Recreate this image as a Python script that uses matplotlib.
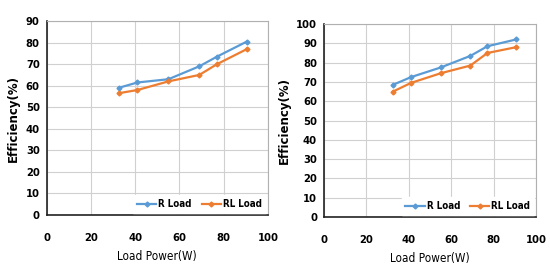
import matplotlib
matplotlib.use("Agg")
import matplotlib.pyplot as plt
from matplotlib import font_manager

names = {f.name for f in font_manager.fontManager.ttflist}
narrow = 'Liberation Sans Narrow' if 'Liberation Sans Narrow' in names else 'DejaVu Sans'
plt.rcParams['font.family'] = [narrow, 'DejaVu Sans']
plt.rcParams['font.stretch'] = 'condensed'

power = [32.5, 41, 55, 69, 77, 90.5]

left_r = [59, 61.5, 63, 69, 73.5, 80.5]
left_rl = [56.5, 58, 62, 65, 70, 77]

right_r = [68.5, 72.5, 77.5, 83.5, 88.5, 92]
right_rl = [65, 69.5, 74.5, 78.5, 85, 88]

panels = [
    (left_r, left_rl, 90, [0.085, 0.195, 0.402, 0.726]),
    (right_r, right_rl, 100, [0.589, 0.187, 0.386, 0.723]),
]

blue = '#5B9BD5'
orange = '#ED7D31'

fig = plt.figure(figsize=(5.5, 2.67), dpi=100)

for r, rl, ymax, rect in panels:
    ax = fig.add_axes(rect)
    ax.plot(power, r, color=blue, lw=1.6, marker='D', ms=2.5, label='R Load')
    ax.plot(power, rl, color=orange, lw=1.6, marker='D', ms=2.5, label='RL Load')
    ax.set_xlim(0, 100)
    ax.set_ylim(0, ymax)
    ax.set_xticks(range(0, 101, 20))
    ax.set_yticks(range(0, ymax + 1, 10))
    ax.grid(color='#d0d0d0', lw=0.8)
    ax.set_axisbelow(True)
    for s in ['top', 'right']:
        ax.spines[s].set_color('#b0b0b0')
    for s in ['left', 'bottom']:
        ax.spines[s].set_color('#222222')
        ax.spines[s].set_linewidth(1.2)
    ax.tick_params(axis='x', length=0, labelsize=8, pad=13)
    ax.tick_params(axis='y', length=0, labelsize=8, pad=5)
    for lab in ax.get_xticklabels() + ax.get_yticklabels():
        lab.set_fontweight('bold')
    ax.set_xlabel('Load Power(W)', fontsize=8.5, fontweight='medium', labelpad=5)
    ax.set_ylabel('Efficiency(%)', fontsize=8.5, fontweight='bold', stretch='normal', labelpad=4)
    leg = ax.legend(loc='lower right', ncol=2, fontsize=7, frameon=True, fancybox=False,
                    handlelength=2.0, columnspacing=1.0, borderaxespad=0.2, handletextpad=0.2)
    leg.get_frame().set_edgecolor('white')
    leg.get_frame().set_alpha(1)
    for t in leg.get_texts():
        t.set_fontweight('bold')

fig.savefig('out.png', dpi=100)
